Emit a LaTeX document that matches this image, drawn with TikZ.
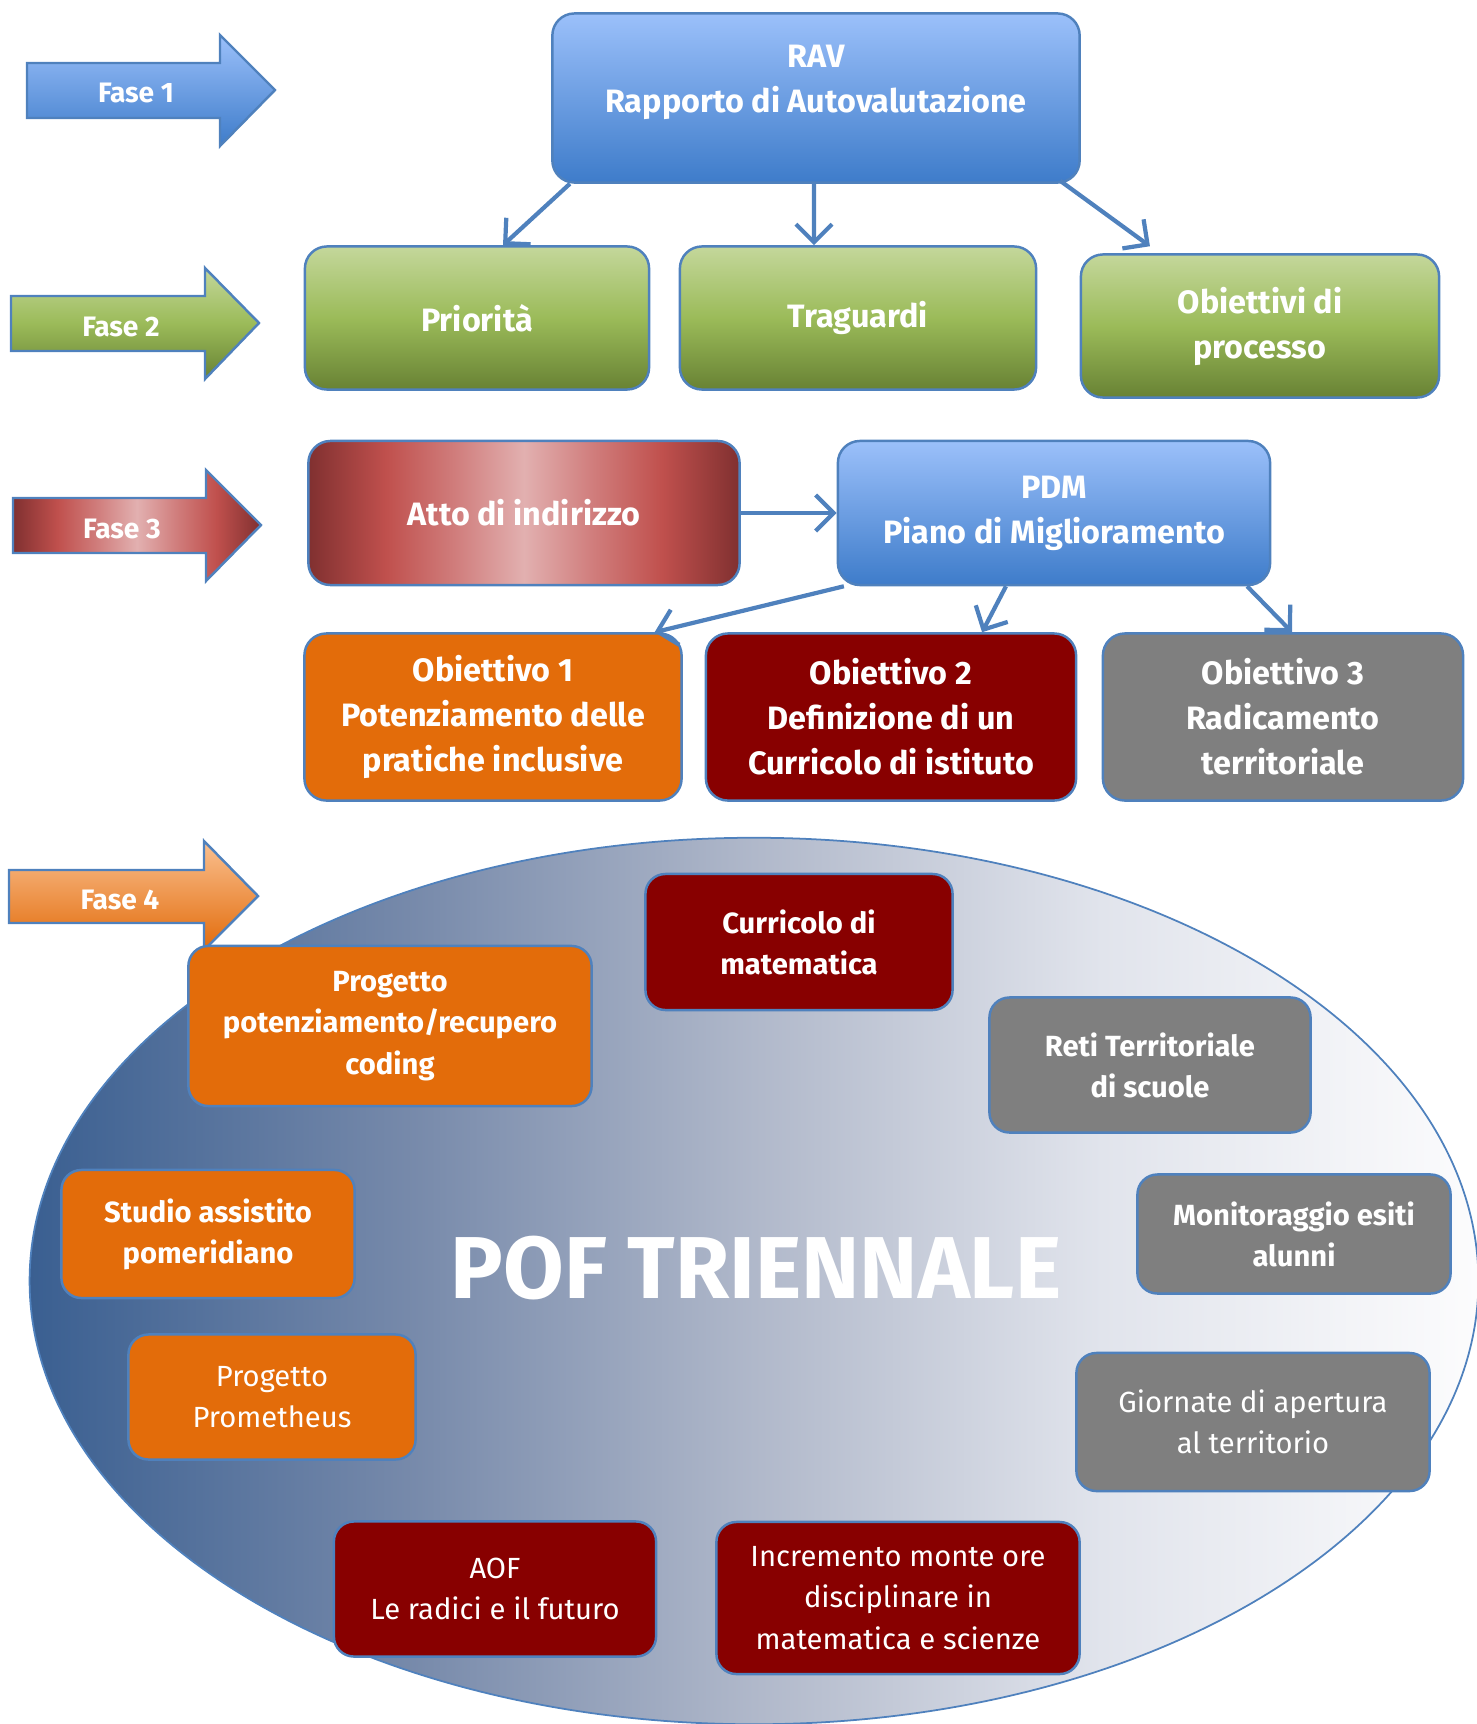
\documentclass[tikz,border=0pt]{standalone}
\usepackage{fontspec}
\setmainfont{Fira Sans}
\usetikzlibrary{arrows.meta, positioning, shadings}

\definecolor{linkblue}{RGB}{79, 129, 189}
\definecolor{bluetop}{RGB}{155, 192, 250}
\definecolor{bluebot}{RGB}{62, 124, 202}
\definecolor{greentop}{RGB}{196, 215, 155}
\definecolor{greenmid}{RGB}{155, 187, 89}
\definecolor{greenbot}{RGB}{104, 130, 52}
\definecolor{redlight}{RGB}{226, 176, 176}
\definecolor{redsoft}{RGB}{208, 125, 124}
\definecolor{redmid}{RGB}{192, 80, 77}
\definecolor{reddark}{RGB}{128, 48, 48}
\definecolor{orangefill}{RGB}{227, 108, 10}
\definecolor{orangetop}{RGB}{250, 192, 144}
\definecolor{orangebot}{RGB}{226, 107, 10}
\definecolor{winered}{RGB}{136, 0, 0}
\definecolor{greyfill}{RGB}{127, 127, 127}
\definecolor{pofleft}{RGB}{58, 95, 145}
\definecolor{pofquart}{RGB}{118, 137, 170}
\definecolor{pofmid}{RGB}{176, 184, 202}
\definecolor{pofthree}{RGB}{225, 228, 236}
\definecolor{pofright}{RGB}{252, 252, 253}

\pgfdeclarehorizontalshading{redglow}{100bp}{color(0bp)=(reddark); color(25bp)=(reddark); color(34bp)=(redmid); color(42bp)=(redsoft); color(50bp)=(redlight); color(58bp)=(redsoft); color(66bp)=(redmid); color(75bp)=(reddark); color(100bp)=(reddark)}
\pgfdeclarehorizontalshading{pofglow}{100bp}{color(0bp)=(pofleft); color(25bp)=(pofleft); color(38bp)=(pofquart); color(50bp)=(pofmid); color(62bp)=(pofthree); color(75bp)=(pofright); color(100bp)=(pofright)}

\tikzset{
  box/.style={draw=linkblue, line width=0.7pt, rounded corners=0.22cm, text=white, align=center, inner sep=2pt,
    font=\bfseries\fontsize{9.2}{12.8}\selectfont},
  bluebox/.style={box, top color=bluetop, bottom color=bluebot},
  greenbox/.style={box, top color=greentop, bottom color=greenbot, middle color=greenmid},
  glowbox/.style={box, shading=redglow},
  obox/.style={box, fill=orangefill},
  rbox/.style={box, fill=winered},
  gbox/.style={box, fill=greyfill},
  small/.style={font=\bfseries\fontsize{8.3}{11.7}\selectfont, rounded corners=0.2cm},
  thin/.style={font=\fontsize{8.3}{11.7}\selectfont},
  link/.style={draw=linkblue, line width=1.2pt, -{Straight Barb[length=0.18cm, width=0.36cm]}},
  fase/.style={draw=linkblue, line width=0.7pt},
  fasetext/.style={text=white, font=\bfseries\fontsize{8}{9}\selectfont}
}

\begin{document}
\begin{tikzpicture}[x=0.01cm, y=-0.01cm]
  \useasboundingbox (0,0) rectangle (1477,1724);

  % Phase arrows
  \path[fase, top color=bluetop, bottom color=bluebot]
    (27,63) -- (220,63) -- (220,35) -- (275,90) -- (220,146) -- (220,118) -- (27,118) -- cycle;
  \node[fasetext] (fase1) at (136,93) {Fase 1};
  \path[fase, top color=greentop, bottom color=greenbot, middle color=greenmid]
    (11,296) -- (205,296) -- (205,268) -- (259,323) -- (205,379) -- (205,351) -- (11,351) -- cycle;
  \node[fasetext] (fase2) at (121,327) {Fase 2};
  \path[fase, shading=redglow]
    (13,498) -- (206,498) -- (206,470) -- (261,525) -- (206,581) -- (206,553) -- (13,553) -- cycle;
  \node[fasetext] (fase3) at (122,529) {Fase 3};
  \path[fase, top color=orangetop, bottom color=orangebot]
    (9,870) -- (204,870) -- (204,841) -- (258,896) -- (204,950) -- (204,923) -- (9,923) -- cycle;
  \node[fasetext] (fase4) at (120,900) {Fase 4};

  % Fase 1 and 2
  \node[bluebox, minimum width=5.27cm, minimum height=1.69cm,
    label={[text=white, align=center, font=\bfseries\fontsize{9.2}{12.8}\selectfont, yshift=0.16cm]center:RAV\\Rapporto di Autovalutazione}]
    (rav) at (816,98) {};
  \node[greenbox, minimum width=3.44cm, minimum height=1.43cm] (prio) at (477,318) {Priorità};
  \node[greenbox, minimum width=3.56cm, minimum height=1.43cm] (trag) at (858,318) {Traguardi};
  \node[greenbox, minimum width=3.58cm, minimum height=1.43cm] (obpro) at (1260,326) {Obiettivi di\\processo};

  \draw[link] ([xshift=-2.46cm]rav.south) -- ([xshift=0.26cm]prio.north);
  \draw[link] ([xshift=-0.02cm]rav.south) -- ([xshift=-0.44cm]trag.north);
  \draw[link] ([xshift=2.44cm, yshift=0.03cm]rav.south) -- ([xshift=-1.1cm, yshift=0.07cm]obpro.north);

  % Fase 3
  \node[glowbox, minimum width=4.31cm, minimum height=1.44cm] (atto) at (524,513) {Atto di indirizzo};
  \node[bluebox, minimum width=4.32cm, minimum height=1.44cm] (pdm) at (1054,513) {PDM\\Piano di Miglioramento};
  \draw[link] (atto.east) -- (pdm.west);

  \node[obox, minimum width=3.77cm, minimum height=1.67cm] (ob1) at (493,717) {Obiettivo 1\\Potenziamento delle\\pratiche inclusive};
  \node[rbox, minimum width=3.70cm, minimum height=1.67cm] (ob2) at (891,717) {Obiettivo 2\\Definizione di un\\Curricolo di istituto};
  \node[gbox, minimum width=3.60cm, minimum height=1.67cm] (ob3) at (1283,717) {Obiettivo 3\\Radicamento\\territoriale};

  \draw[link] ([xshift=-2.10cm]pdm.south) -- ([xshift=1.615cm]ob1.north);
  \draw[link] ([xshift=-0.48cm]pdm.south) -- ([xshift=0.91cm]ob2.north);
  \draw[link] ([xshift=1.93cm]pdm.south) -- ([xshift=0.09cm]ob3.north);

  % Fase 4: POF
  \draw[draw=linkblue, line width=0.5pt, shading=pofglow]
    (754,1281) ellipse [x radius=7.24cm, y radius=4.43cm];
  \node[text=white, font=\bfseries\fontsize{25}{30}\selectfont] (pof) at (756,1268) {POF TRIENNALE};

  \node[obox, small, minimum width=4.03cm, minimum height=1.60cm] (potrec) at (390,1026) {Progetto\\potenziamento/recupero\\coding};
  \node[rbox, small, minimum width=3.07cm, minimum height=1.36cm] (curmat) at (799,942) {Curricolo di\\matematica};
  \node[gbox, small, minimum width=3.21cm, minimum height=1.35cm] (reti) at (1150,1065) {Reti Territoriale\\di scuole};
  \node[obox, small, minimum width=2.93cm, minimum height=1.28cm] (studio) at (208,1234) {Studio assistito\\pomeridiano};
  \node[gbox, small, minimum width=3.13cm, minimum height=1.19cm] (monit) at (1294,1234) {Monitoraggio esiti\\alunni};
  \node[obox, small, thin, minimum width=2.87cm, minimum height=1.25cm] (prom) at (272,1397) {Progetto\\Prometheus};
  \node[gbox, small, thin, minimum width=3.53cm, minimum height=1.38cm] (giorn) at (1253,1422) {Giornate di apertura\\al territorio};
  \node[rbox, small, thin, minimum width=3.22cm, minimum height=1.35cm] (aof) at (495,1589) {AOF\\Le radici e il futuro};
  \node[rbox, small, thin, minimum width=3.63cm, minimum height=1.52cm] (incr) at (898,1598) {Incremento monte ore\\disciplinare in\\matematica e scienze};
\end{tikzpicture}
\end{document}
